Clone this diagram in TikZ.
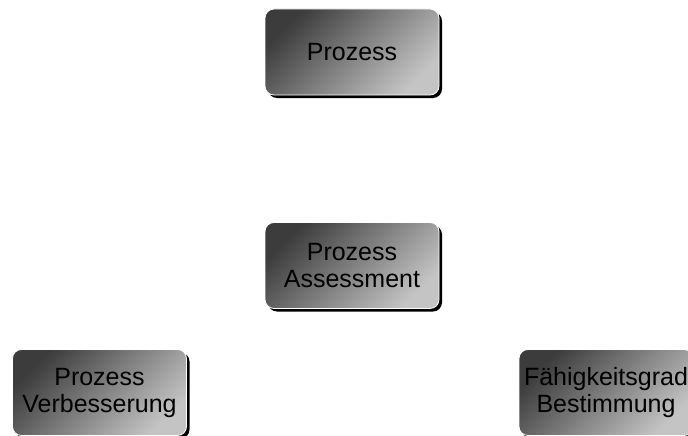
\documentclass[tikz,border=0pt]{standalone}
\usepackage{fontspec}
\setmainfont{Liberation Sans}
\usetikzlibrary{shadows}
\definecolor{boxdark}{HTML}{3C3C3C}
\definecolor{boxlight}{HTML}{C4C4C4}

\begin{document}
\begin{tikzpicture}[
    x=1pt, y=-1pt,
    box/.style={rounded corners=9pt, minimum width=174pt, minimum height=86pt, inner sep=0pt,
        font=\fontsize{25}{27}\selectfont, align=center,
        draw=white, line width=0.8pt,
        top color=boxdark, bottom color=boxlight, shading angle=45,
        drop shadow={shadow xshift=3pt, shadow yshift=-3pt, fill=black, opacity=1}},
]
\useasboundingbox (0,0) rectangle (688,436);
\clip (0,0) rectangle (688,436);

\node[box] (proz) at (352,52) {Prozess};
\node[box] (assess) at (352,265.5) {Prozess\\Assessment};
\node[box] (verb) at (99.5,392.5) {Prozess\\Verbesserung};
\node[box] (faehig) at (606,392.5) {Fähigkeitsgrad\\Bestimmung};

\end{tikzpicture}
\end{document}
